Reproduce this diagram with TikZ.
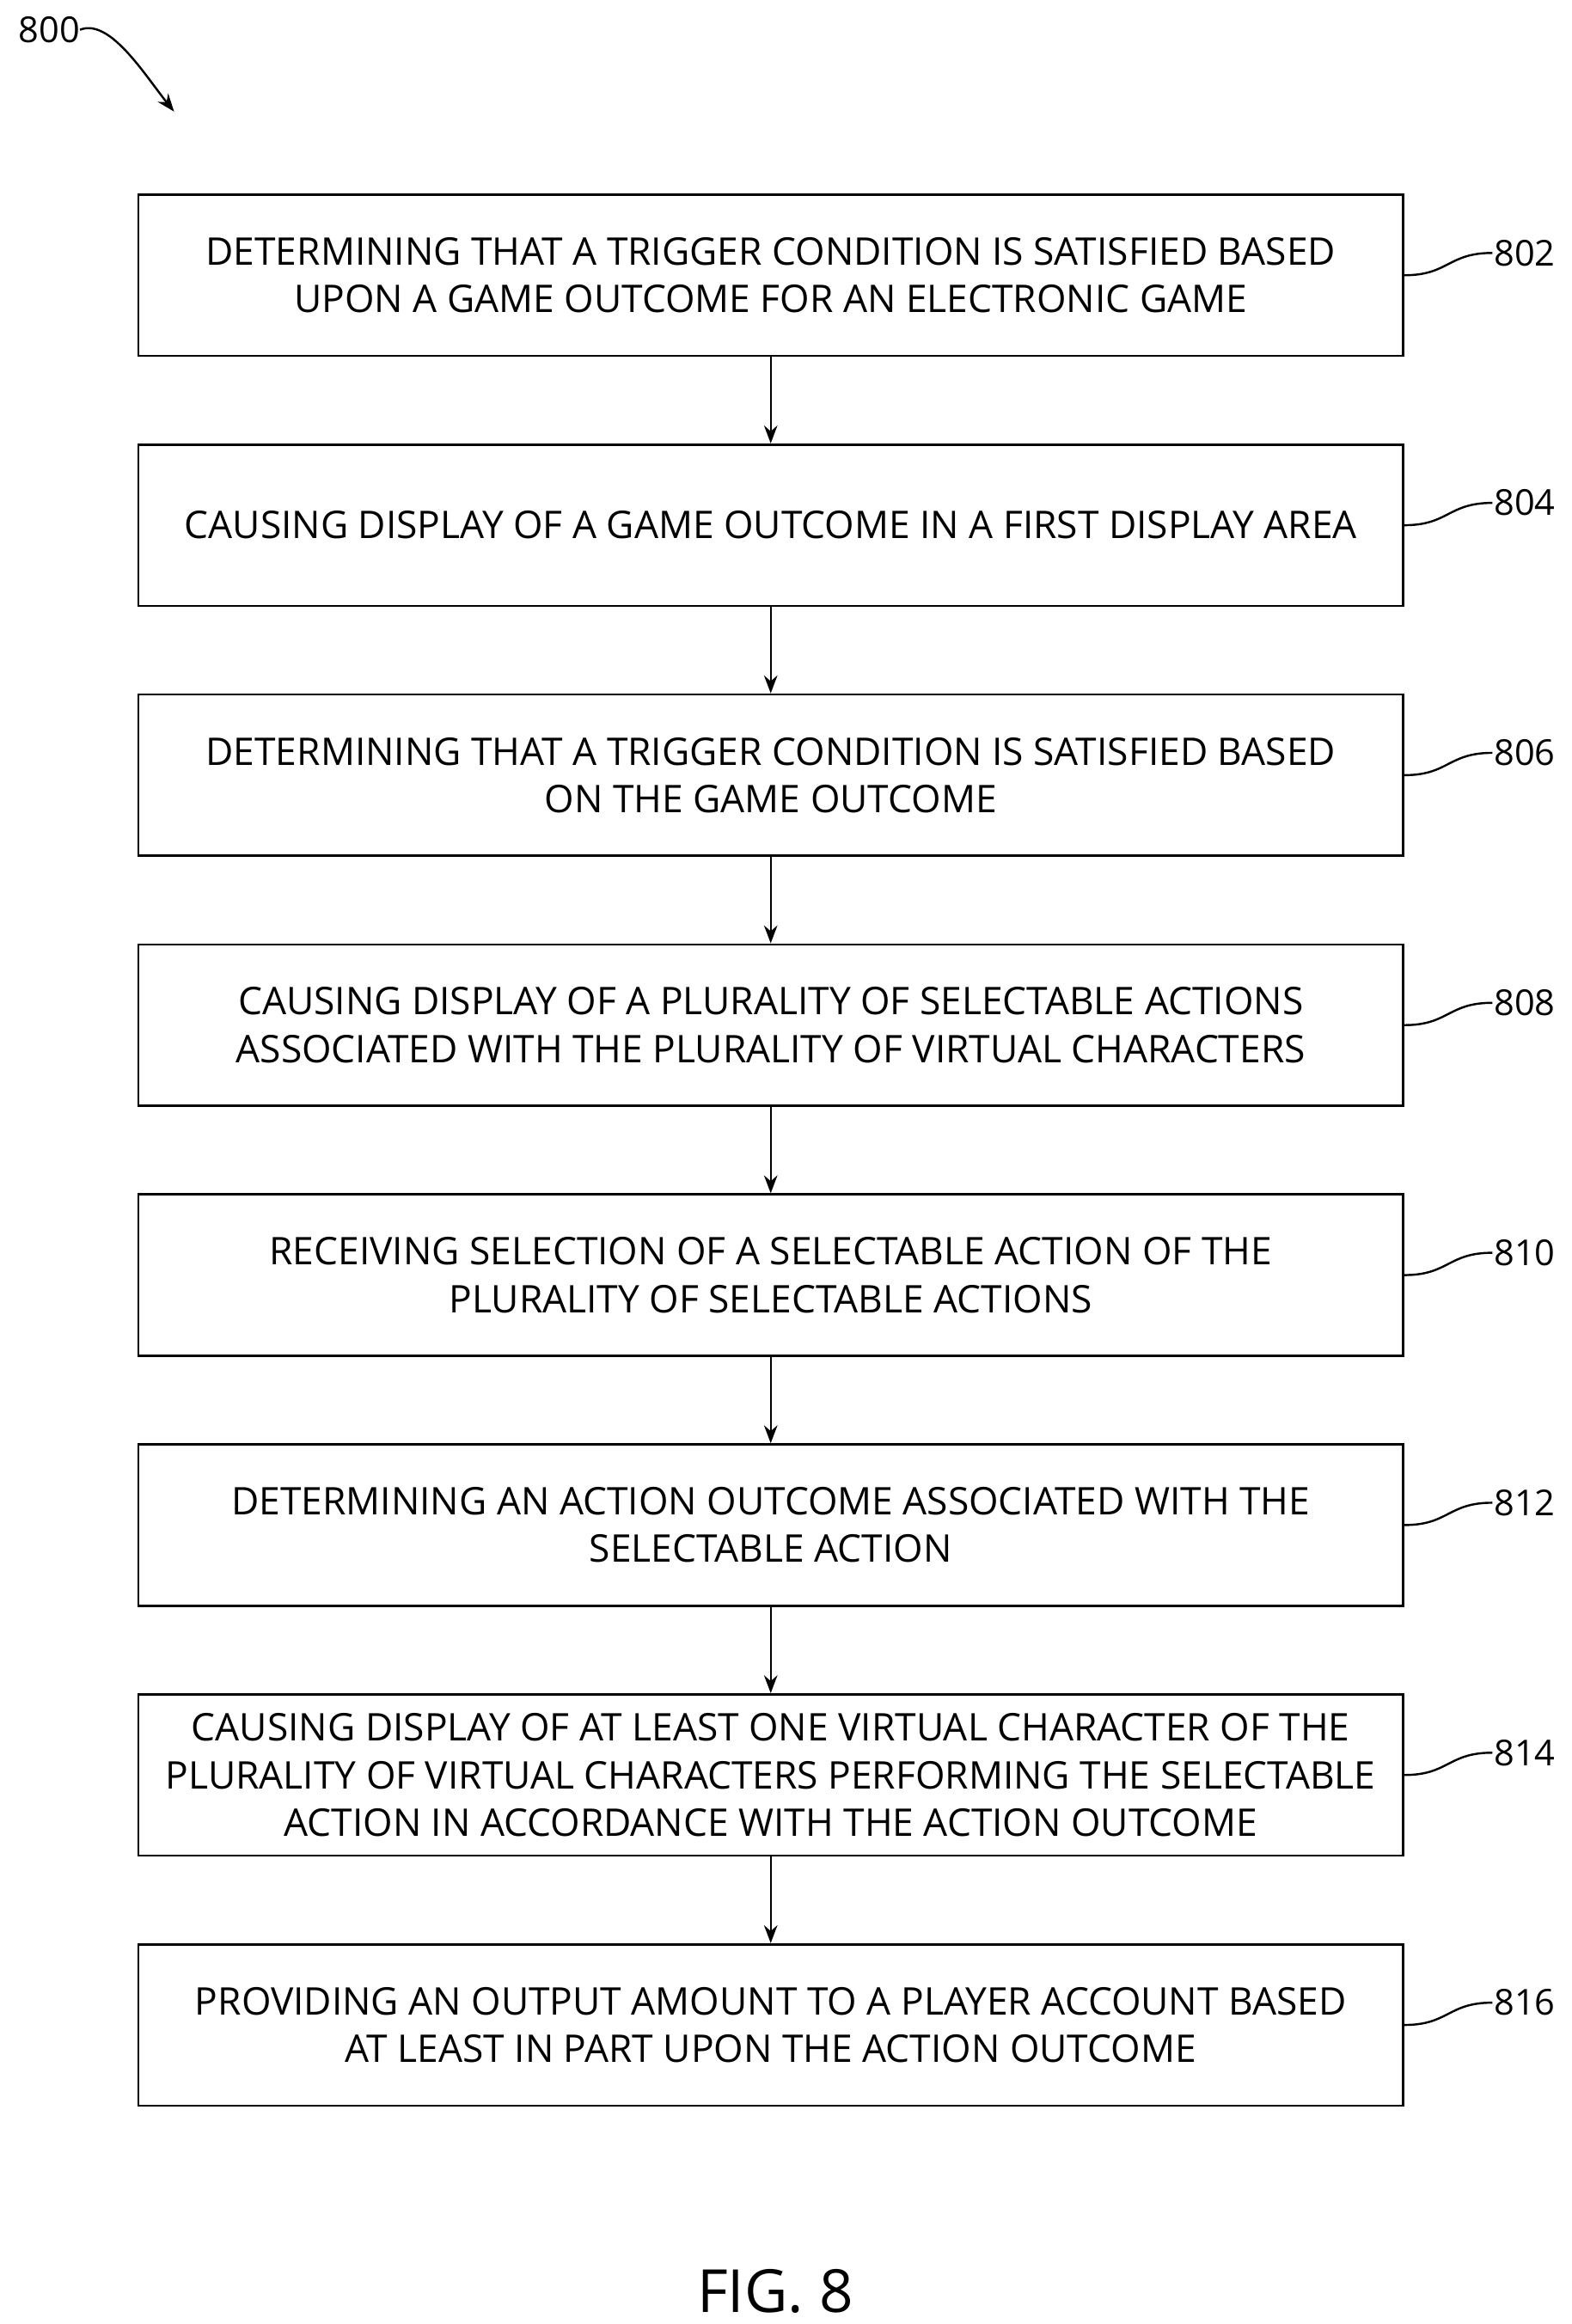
\documentclass[tikz,border=0pt]{standalone}
\usepackage{fontspec}
\setmainfont{Open Sans}
\usetikzlibrary{arrows.meta}
\begin{document}
\begin{tikzpicture}[x=1pt,y=-1pt,
  box/.style={draw,line width=1.6pt,minimum width=850pt,minimum height=108.4pt,align=center,inner sep=0pt,font=\fontsize{25.6}{32}\selectfont},
  lab/.style={anchor=west,inner sep=0pt,font=\fontsize{24}{28}\selectfont},
  arr/.style={line width=1.4pt,-{Stealth[length=12pt,width=9pt]}},
  lead/.style={line width=1.4pt}]
\useasboundingbox (0,0) rectangle (1056,1562);
\foreach \n/\y/\t in {802/130/{DETERMINING THAT A TRIGGER CONDITION IS SATISFIED BASED\\UPON A GAME OUTCOME FOR AN ELECTRONIC GAME},
804/298/{CAUSING DISPLAY OF A GAME OUTCOME IN A FIRST DISPLAY AREA},
806/466/{DETERMINING THAT A TRIGGER CONDITION IS SATISFIED BASED\\ON THE GAME OUTCOME},
808/634/{CAUSING DISPLAY OF A PLURALITY OF SELECTABLE ACTIONS\\ASSOCIATED WITH THE PLURALITY OF VIRTUAL CHARACTERS},
810/802/{RECEIVING SELECTION OF A SELECTABLE ACTION OF THE\\PLURALITY OF SELECTABLE ACTIONS},
812/970/{DETERMINING AN ACTION OUTCOME ASSOCIATED WITH THE\\SELECTABLE ACTION},
814/1138/{CAUSING DISPLAY OF AT LEAST ONE VIRTUAL CHARACTER OF THE\\PLURALITY OF VIRTUAL CHARACTERS PERFORMING THE SELECTABLE\\ACTION IN ACCORDANCE WITH THE ACTION OUTCOME},
816/1306/{PROVIDING AN OUTPUT AMOUNT TO A PLAYER ACCOUNT BASED\\AT LEAST IN PART UPON THE ACTION OUTCOME}}{
  \node[box] (b\n) at (518,\y+55) {\t};
  \node[lab] (l\n) at (1004,\y+40) {\n};
  \draw[lead] (b\n.east) .. controls +(30,0) and +(-30,0) .. ([xshift=-1pt]l\n.west);
}
\foreach \a/\b in {802/804,804/806,806/808,808/810,810/812,812/814,814/816}
  \draw[arr] (b\a.south) -- (b\b.north);
\node[lab,anchor=center] (l800) at (33,20) {800};
\coordinate (t800) at (117,75);
\draw[lead,-{Stealth[length=12pt,width=9pt]}] (l800.east) .. controls +(20,-8) and +(-20,-25) .. (t800);
\node[font=\fontsize{40}{44}\selectfont,inner sep=0pt] (fig) at (521,1540) {FIG. 8};
\end{tikzpicture}
\end{document}
